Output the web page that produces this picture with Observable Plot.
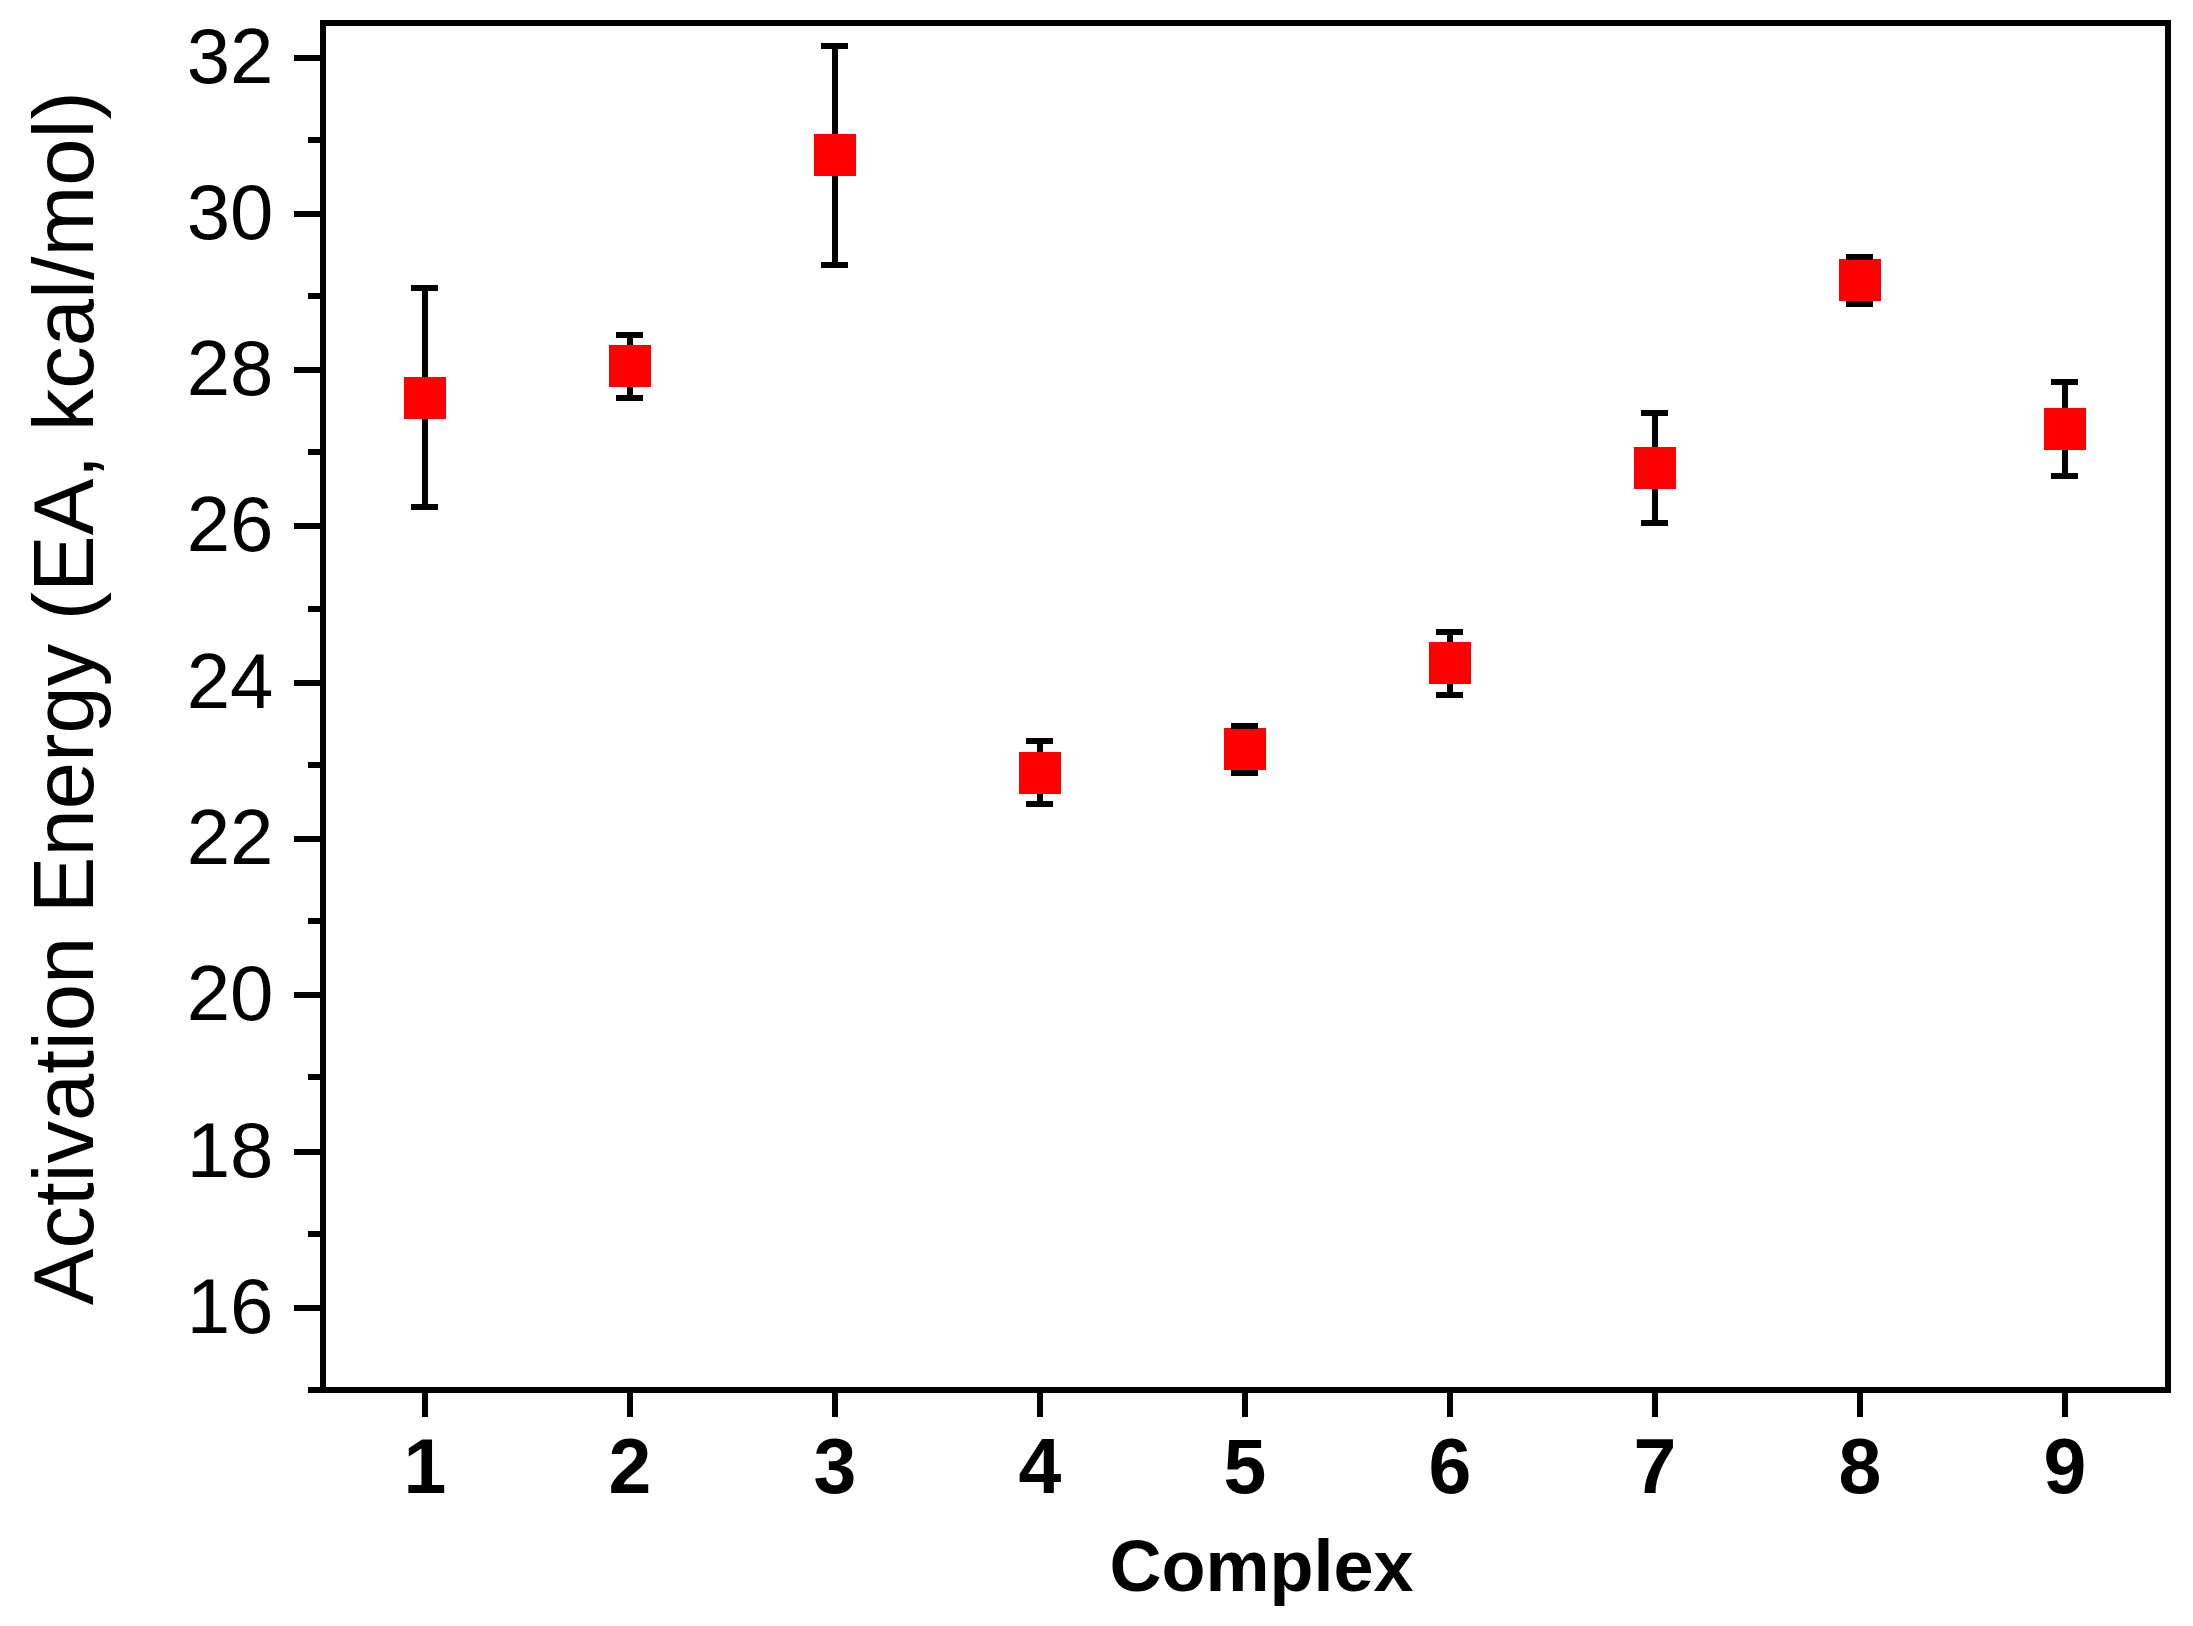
<!DOCTYPE html>
<html><head><meta charset="utf-8">
<script src="https://cdn.jsdelivr.net/npm/d3@7"></script>
<script src="https://cdn.jsdelivr.net/npm/@observablehq/plot@0.6"></script>
<style>html,body{margin:0;padding:0;background:#fff}</style>
</head><body><div id="chart"></div>
<script>
const complexes = [1, 2, 3, 4, 5, 6, 7, 8, 9];
const energy = [27.7, 28.1, 30.8, 22.9, 23.2, 24.3, 26.8, 29.2, 27.3];
const errors = [1.4, 0.4, 1.4, 0.4, 0.3, 0.4, 0.7, 0.3, 0.6];
const yMajorTicks = [16, 18, 20, 22, 24, 26, 28, 30, 32];
const yMinorTicks = [15, 17, 19, 21, 23, 25, 27, 29, 31];
const xTicks = [1, 2, 3, 4, 5, 6, 7, 8, 9];
const xTitle = "Complex";
const yTitle = "Activation Energy (EA, kcal/mol)";

const data = complexes.map((c, i) => ({complex: c, energy: energy[i], lo: energy[i] - errors[i], hi: energy[i] + errors[i]}));
const capHalf = 0.068;
const font = "'Liberation Sans', Arial, sans-serif";
const crisp = {shapeRendering: "crispEdges"};

const chart = Plot.plot({
  width: 2193,
  height: 1626,
  marginLeft: 322,
  marginRight: 26,
  marginTop: 22,
  marginBottom: 236.5,
  style: {background: "#fff", fontFamily: font, color: "#000"},
  x: {domain: [0.5, 9.5]},
  y: {domain: [15, 32.5]},
  marks: [
    Plot.ruleX(data, {x: "complex", y1: "lo", y2: "hi", stroke: "#000", strokeWidth: 6, ...crisp}),
    Plot.dot(data, {x: "complex", y: "energy", symbol: "square", r: 23.7, fill: "#ff0000", stroke: "none", ...crisp}),
    Plot.ruleY(data, {y: "lo", x1: d => d.complex - capHalf, x2: d => d.complex + capHalf, stroke: "#000", strokeWidth: 6, ...crisp}),
    Plot.ruleY(data, {y: "hi", x1: d => d.complex - capHalf, x2: d => d.complex + capHalf, stroke: "#000", strokeWidth: 6, ...crisp}),
    Plot.frame({stroke: "#000", strokeWidth: 6, ...crisp}),
    Plot.axisY(yMinorTicks, {tickSize: 14, strokeWidth: 6, tickFormat: () => "", label: null, ...crisp}),
    Plot.axisY(yMajorTicks, {tickSize: 28, tickPadding: 21, strokeWidth: 6, fontSize: 78, dy: -4, tickFormat: d => String(d), label: null, ...crisp}),
    Plot.axisX(xTicks, {tickSize: 27, tickPadding: 21.5, strokeWidth: 6, fontSize: 77, fontWeight: "bold", tickFormat: d => String(d), label: null, ...crisp}),
    Plot.text([xTitle], {text: d => d, frameAnchor: "bottom", lineAnchor: "middle", textAnchor: "middle", dy: 177.5, dx: 16.5, fontSize: 72, fontWeight: "bold"}),
    Plot.text([yTitle], {text: d => d, frameAnchor: "left", lineAnchor: "middle", textAnchor: "middle", rotate: -90, dx: -257, dy: -8, fontSize: 85, ariaLabel: "ytitle"})
  ]
});
document.getElementById("chart").appendChild(chart);

// italic "A" in "EA"
const t = chart.querySelector('g[aria-label="ytitle"] text');
if (t) {
  const parts = yTitle.split("EA");
  while (t.firstChild) t.removeChild(t.firstChild);
  const ns = "http://www.w3.org/2000/svg";
  const a = document.createElementNS(ns, "tspan"); a.textContent = parts[0] + "E";
  const b = document.createElementNS(ns, "tspan"); b.textContent = "A"; b.setAttribute("font-style", "italic");
  const c = document.createElementNS(ns, "tspan"); c.textContent = parts[1];
  t.appendChild(a); t.appendChild(b); t.appendChild(c);
}
</script>
</body></html>
